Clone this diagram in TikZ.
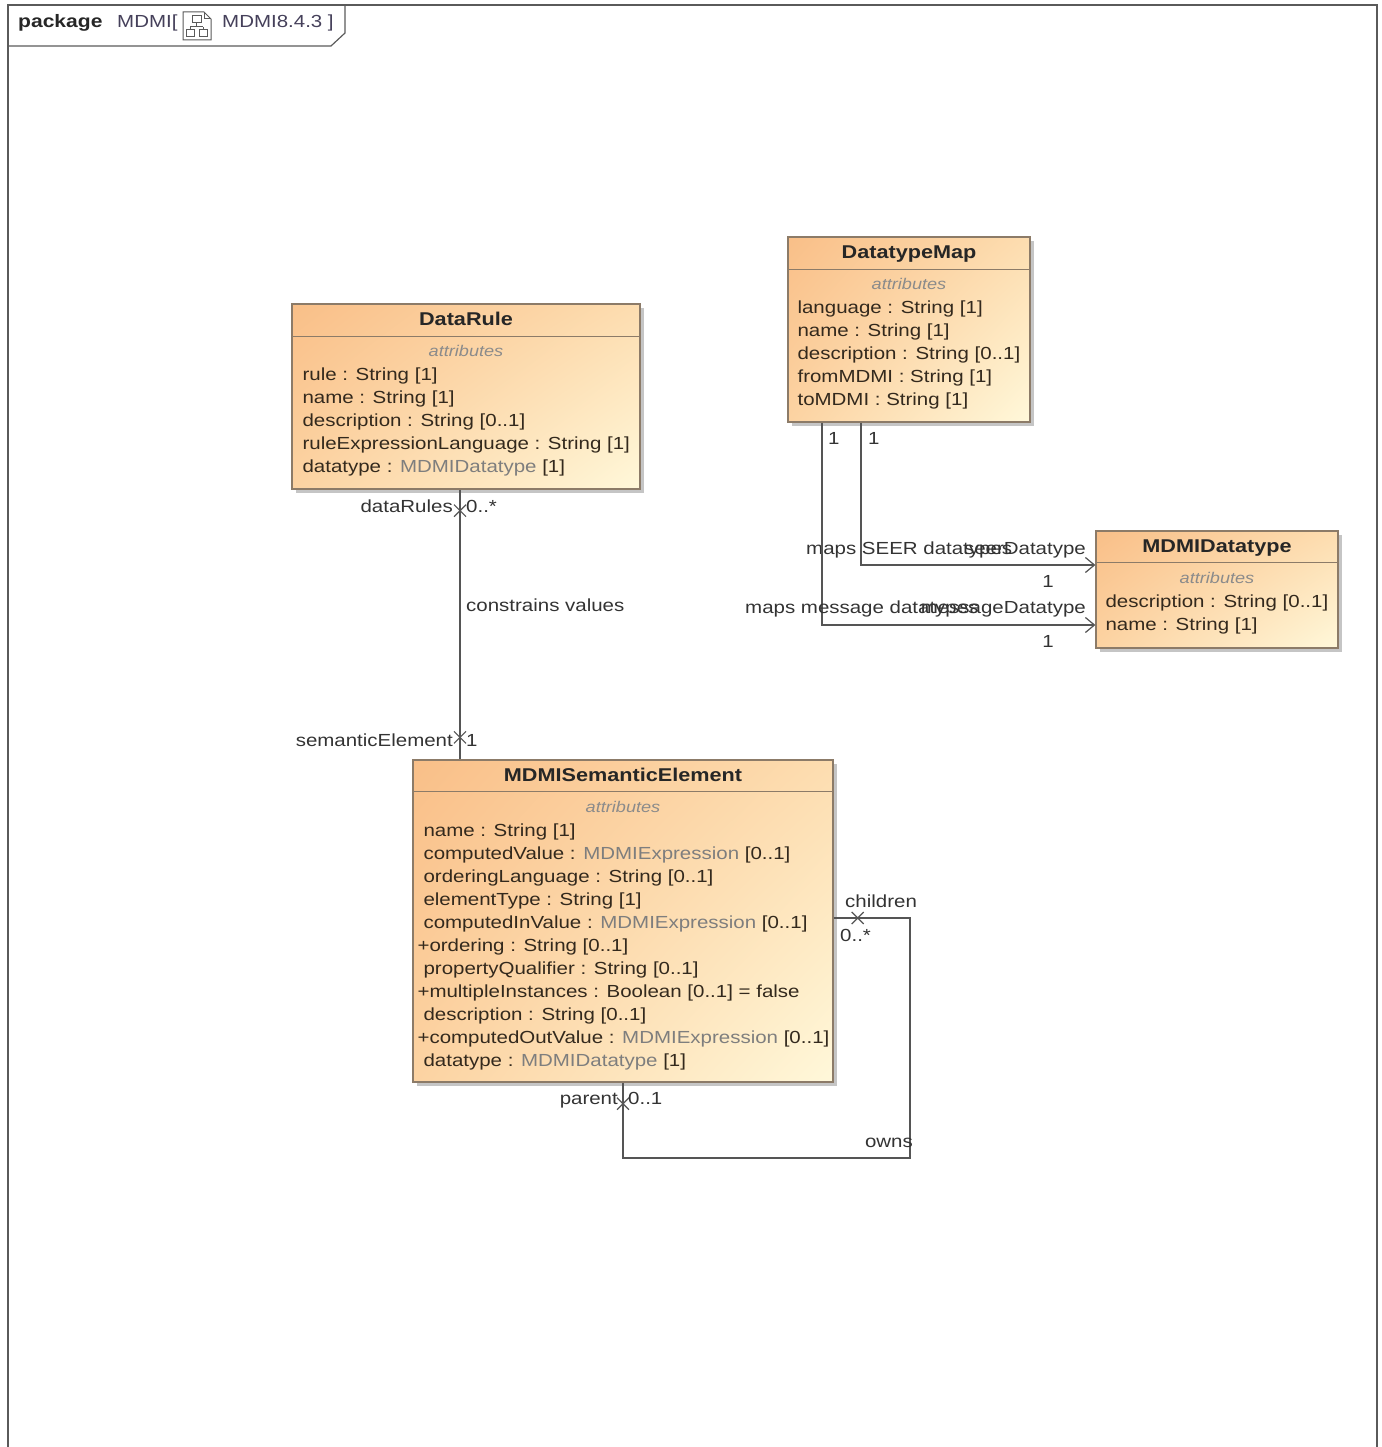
\documentclass[tikz,border=0pt]{standalone}
\usepackage{fontspec}
\setmainfont{Liberation Sans}[FakeStretch=1.17]
\usetikzlibrary{positioning,calc,shadows,shadings,decorations.markings,arrows.meta}

\definecolor{framecol}{HTML}{5A5A5A}
\definecolor{clsborder}{HTML}{8C7B68}
\definecolor{clsul}{HTML}{F9BF88}
\definecolor{clsur}{HTML}{FDDDB0}
\definecolor{clsll}{HTML}{FCD3A2}
\definecolor{clslr}{HTML}{FFF8DA}
\definecolor{txtdark}{HTML}{33291D}
\definecolor{txtgray}{HTML}{7E7E7E}
\definecolor{pkgcol}{HTML}{45405A}
\definecolor{linecol}{HTML}{555555}

\tikzset{
  classbox/.style={draw=clsborder, line width=1.3pt, inner sep=0pt,
    upper left=clsul, upper right=clsur, lower left=clsll, lower right=clslr,
    drop shadow={shadow xshift=4pt, shadow yshift=-4pt, fill=black!45, opacity=0.5}},
  sepline/.style={draw=clsborder, line width=1.2pt},
  classtitle/.style={font=\bfseries\fontsize{18.5}{22}\selectfont, text=black!85, inner sep=0pt, anchor=base},
  stereo/.style={font=\itshape\fontsize{15.5}{18}\selectfont, text=txtgray!90, inner sep=0pt, anchor=base},
  attr/.style={font=\fontsize{17.5}{21}\selectfont, text=txtdark, inner sep=0pt, anchor=base west},
  lbl/.style={font=\fontsize{17.5}{21}\selectfont, text=black!80, inner sep=0pt},
  assoc/.style={draw=linecol, line width=1.2pt},
  nav/.style={-{Straight Barb[length=9pt,width=15pt,line width=1.2pt]}},
  xmark/.style={postaction={decorate, decoration={markings, mark=at position #1 with {\draw[draw=linecol, line width=1.2pt] (-6,-6) -- (6,6) (-6,6) -- (6,-6);}}}}
}

\begin{document}
\begin{tikzpicture}[x=1pt, y=-1pt]
    \useasboundingbox (0,0) rectangle (1381,1447);

    % frame and tab
    \draw[framecol, line width=1.4pt] (8,1447) -- (8,5) -- (1377,5) -- (1377,1447);
    \draw[framecol, line width=1.2pt] (8,46) -- (331,46) -- (345,33) -- (345,5);
    \node[lbl, anchor=base west, font=\bfseries\fontsize{18}{21}\selectfont, text=black!85] (pkg-kw) at (18,28) {package};
    \node[lbl, anchor=base west, text=pkgcol] (pkg-name) at (117,28) {MDMI[};
    \node[lbl, anchor=base west, text=pkgcol] (pkg-diag) at (222,28) {MDMI8.4.3 ]};
    \draw[framecol, line width=1pt, fill=white] (183,12) -- (204,12) -- (211,19) -- (211,40) -- (183,40) -- cycle;
    \draw[framecol, line width=1pt] (204,12) -- (204,19) -- (211,19);
    \draw[framecol, line width=1pt] (192,16) rectangle (201,23) (196.5,23) -- (196.5,27) (190,27) -- (203,27) (190,27) -- (190,30) (203,27) -- (203,30);
    \draw[framecol, line width=1pt] (186,30) rectangle (194,37) (199,30) rectangle (207,37);

    % DataRule
    \node[classbox, minimum width=348pt, minimum height=185pt] (rule) at (466,396.5) {};
    \draw[sepline] ([yshift=-33pt]rule.north west) -- ([yshift=-33pt]rule.north east);
    \node[classtitle] (rule-title) at ([yshift=-22pt]rule.north) {DataRule};
    \node[stereo] (rule-st) at ([yshift=-53pt]rule.north) {attributes};
    \foreach \t [count=\i from 0] in {rule : String [1], name : String [1], description : String [0..1],
        ruleExpressionLanguage : String [1], datatype : \textcolor{txtgray}{MDMIDatatype} [1]}
        \node[attr] (rule-\i) at ([xshift=11pt, yshift={-77-23*\i}]rule.north west) {\t};

    % DatatypeMap
    \node[classbox, minimum width=242pt, minimum height=185pt] (dmap) at (909,329.5) {};
    \draw[sepline] ([yshift=-33pt]dmap.north west) -- ([yshift=-33pt]dmap.north east);
    \node[classtitle] (dmap-title) at ([yshift=-22pt]dmap.north) {DatatypeMap};
    \node[stereo] (dmap-st) at ([yshift=-53pt]dmap.north) {attributes};
    \foreach \t [count=\i from 0] in {language : String [1], name : String [1], description : String [0..1],
        fromMDMI : String [1], toMDMI : String [1]}
        \node[attr] (dmap-\i) at ([xshift=10pt, yshift={-77-23*\i}]dmap.north west) {\t};

    % MDMIDatatype
    \node[classbox, minimum width=242pt, minimum height=117pt] (dtype) at (1217,589.5) {};
    \draw[sepline] ([yshift=-32pt]dtype.north west) -- ([yshift=-32pt]dtype.north east);
    \node[classtitle] (dtype-title) at ([yshift=-22pt]dtype.north) {MDMIDatatype};
    \node[stereo] (dtype-st) at ([yshift=-53pt]dtype.north) {attributes};
    \foreach \t [count=\i from 0] in {description : String [0..1], name : String [1]}
        \node[attr] (dtype-\i) at ([xshift=10pt, yshift={-77-23*\i}]dtype.north west) {\t};

    % MDMISemanticElement
    \node[classbox, minimum width=420pt, minimum height=322pt] (sem) at (623,921) {};
    \draw[sepline] ([yshift=-32pt]sem.north west) -- ([yshift=-32pt]sem.north east);
    \node[classtitle] (sem-title) at ([yshift=-22pt]sem.north) {MDMISemanticElement};
    \node[stereo] (sem-st) at ([yshift=-53pt]sem.north) {attributes};
    \foreach \x/\t [count=\i from 0] in {11/name : String [1],
        11/computedValue : \textcolor{txtgray}{MDMIExpression} [0..1],
        11/orderingLanguage : String [0..1],
        11/elementType : String [1],
        11/computedInValue : \textcolor{txtgray}{MDMIExpression} [0..1],
        5/+ordering : String [0..1],
        11/propertyQualifier : String [0..1],
        5/+multipleInstances : Boolean [0..1] = false,
        11/description : String [0..1],
        5/+computedOutValue : \textcolor{txtgray}{MDMIExpression} [0..1],
        11/datatype : \textcolor{txtgray}{MDMIDatatype} [1]}
        \node[attr] (sem-\i) at ([xshift=\x pt, yshift={-77-23*\i}]sem.north west) {\t};

    % constrains values
    \draw[assoc, xmark=21pt, xmark=-22pt] ([xshift=-6pt]rule.south) -- ([xshift=-6pt]rule.south |- sem.north);
    \node[lbl, anchor=base east] (dr-role) at (453,512) {dataRules};
    \node[lbl, anchor=base west] (dr-mult) at (466,512) {0..*};
    \node[lbl, anchor=base west] (dr-name) at (466,611) {constrains values};
    \node[lbl, anchor=base east] (se-role) at (453,746) {semanticElement};
    \node[lbl, anchor=base west] (se-mult) at (466,746) {1};

    % maps SEER datatypes
    \draw[assoc, nav] ([xshift=-48pt]dmap.south) |- ([yshift=24.5pt]dtype.west);
    \node[lbl, anchor=base west] (seer-src) at (868,444) {1};
    \node[lbl, anchor=base west] (seer-name) at (806,554) {maps SEER datatypes};
    \node[lbl, anchor=base east] (seer-role) at (1086,554) {seerDatatype};
    \node[lbl, anchor=base] (seer-mult) at (1048,587) {1};

    % maps message datatypes
    \draw[assoc, nav] ([xshift=-87pt]dmap.south) |- ([yshift=-35.5pt]dtype.west);
    \node[lbl, anchor=base west] (msg-src) at (828,444) {1};
    \node[lbl, anchor=base west] (msg-name) at (745,613) {maps message datatypes};
    \node[lbl, anchor=base east] (msg-role) at (1086,613) {messageDatatype};
    \node[lbl, anchor=base] (msg-mult) at (1048,647) {1};

    % owns
    \coordinate (owns-corner) at (910,1158);
    \draw[assoc, xmark=24pt, xmark=-21pt] ([yshift=3pt]sem.east) -| (owns-corner) -| (sem.south);
    \node[lbl, anchor=base west] (ch-role) at (845,907) {children};
    \node[lbl, anchor=base west] (ch-mult) at (840,941) {0..*};
    \node[lbl, anchor=base east] (pa-role) at (618,1104) {parent};
    \node[lbl, anchor=base west] (pa-mult) at (628,1104) {0..1};
    \node[lbl, anchor=base east] (owns-name) at (913,1147) {owns};
\end{tikzpicture}
\end{document}
